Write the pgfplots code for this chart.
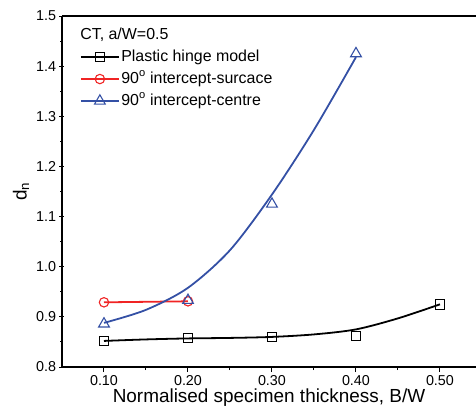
\documentclass[border=0pt]{standalone}
\usepackage{pgfplots}
\pgfplotsset{compat=1.18}
\usepackage{fontspec}
\setmainfont{Liberation Sans}
\definecolor{cred}{RGB}{240,36,36}
\definecolor{cblue}{RGB}{52,80,165}

\begin{document}
\begin{tikzpicture}
% fix the page: axis box is 414x351, margins as in the reference
\path[use as bounding box] (-62bp,-49bp) rectangle (414bp,367bp);
\begin{axis}[
    scale only axis,
    width=414bp, height=351bp,
    xmin=0.05, xmax=0.5429,
    ymin=0.8, ymax=1.5,
    xtick={0.1,0.2,0.3,0.4,0.5},
    minor xtick={0.15,0.25,0.35,0.45},
    ytick={0.8,0.9,...,1.51},
    minor ytick={0.85,0.95,...,1.46},
    xtick pos=bottom, ytick pos=left,
    tick align=outside,
    major tick length=5bp, minor tick length=3bp,
    every tick/.style={black, line width=1pt},
    axis y line=left, axis x line=box,
    axis line style={-, line width=1.4pt},
    /pgf/number format/assume math mode=true,
    xticklabel style={/pgf/number format/.cd, fixed, fixed zerofill, precision=2},
    yticklabel style={/pgf/number format/.cd, fixed, fixed zerofill, precision=1},
    tick label style={font=\fontsize{14.4}{16}\selectfont},
    xlabel={Normalised specimen thickness, B/W},
    ylabel={d\textsubscript{n}},
    label style={font=\fontsize{19}{21}\selectfont},
    xlabel style={yshift=4bp},
    legend style={at={(0.043,0.972)}, anchor=north west, draw=none, fill=none,
        inner sep=0pt, font=\fontsize{16}{19}\selectfont, row sep=4bp,
        nodes={inner sep=1.5bp, text height=11.5bp, text depth=3.5bp},
        cells={anchor=west}},
    legend cell align=left,
    legend image code/.code={
        \draw[mark repeat=2, mark phase=2] plot coordinates {(0cm,0cm) (0.67cm,0cm) (1.34cm,0cm)};
    },
    blk/.style={black, line width=1.8pt},
    rd/.style={cred, line width=1.8pt},
    bl/.style={cblue, line width=1.8pt},
    sq/.style={mark=square, mark size=4.8bp, mark options={black, fill=white, line width=1.1pt}},
    ci/.style={mark=o, mark size=4.7bp, mark options={cred, fill=white, line width=1.1pt}},
    tr/.style={mark=triangle, mark size=6.2bp, mark options={cblue, fill=white, line width=1.1pt}},
]
% fitted curves
\addplot[blk, smooth, forget plot] coordinates {
    (0.1,0.852) (0.15,0.855) (0.2,0.857) (0.25,0.858) (0.3,0.860)
    (0.35,0.865) (0.4,0.875) (0.45,0.897) (0.5,0.925)};
\addplot[rd, forget plot] coordinates {(0.1,0.929) (0.2,0.931)};
\addplot[bl, smooth, forget plot] coordinates {
    (0.1,0.888) (0.15,0.914) (0.2,0.958) (0.25,1.033) (0.3,1.144)
    (0.35,1.273) (0.4,1.418)};
% measured points
\addplot[only marks, sq, forget plot] coordinates {
    (0.1,0.852) (0.2,0.858) (0.3,0.860) (0.4,0.862) (0.5,0.925)};
\addplot[only marks, ci, forget plot] coordinates {(0.1,0.929) (0.2,0.931)};
\addplot[only marks, tr, forget plot] coordinates {
    (0.1,0.886) (0.2,0.933) (0.3,1.125) (0.4,1.425)};

\addlegendimage{empty legend}
\addlegendentry{\hspace*{-41bp}CT, a/W=0.5}
\addlegendimage{blk, sq}
\addlegendentry{Plastic hinge model}
\addlegendimage{rd, ci}
\addlegendentry{90\textsuperscript{o} intercept-surcace}
\addlegendimage{bl, tr}
\addlegendentry{90\textsuperscript{o} intercept-centre}
\end{axis}
\end{tikzpicture}
\end{document}
